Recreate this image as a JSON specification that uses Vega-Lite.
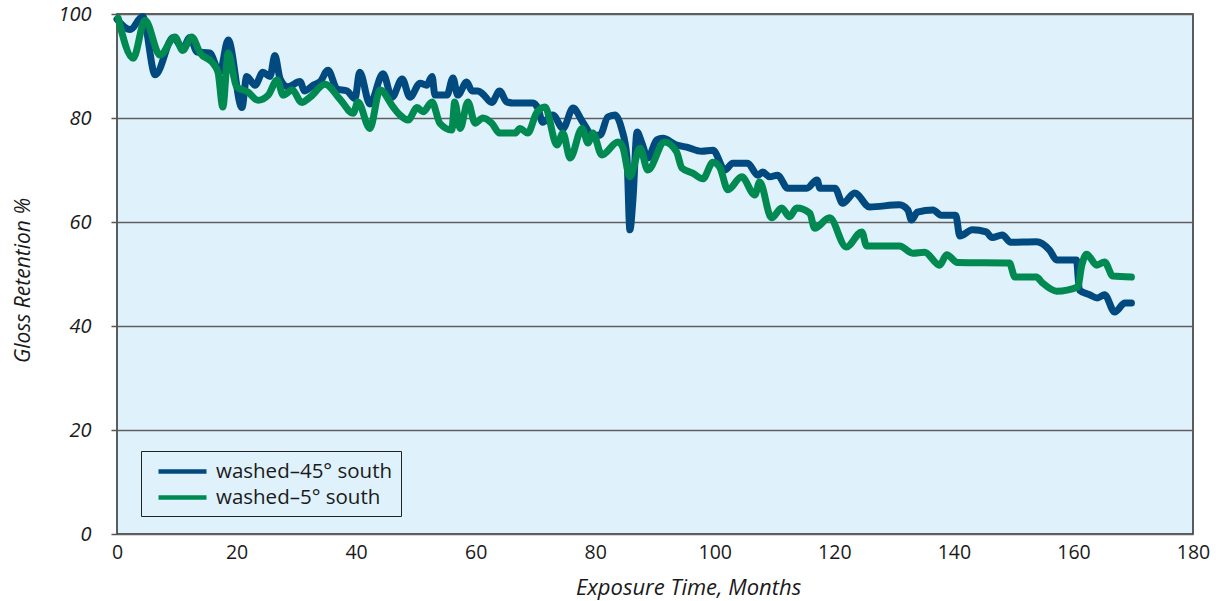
{
  "$schema": "https://vega.github.io/schema/vega-lite/v6.json",
  "width": 1076,
  "height": 520,
  "autosize": {"type": "none"},
  "padding": {"left": 117, "top": 14, "right": 23, "bottom": 67},
  "background": "white",
  "config": {
    "font": "Open Sans",
    "view": {"fill": "#dff1fb", "stroke": "#2a2a2a", "strokeWidth": 1.5}
  },
  "data": {
    "values": [
      {"m": 0, "g": 99, "s": "washed–45° south"},
      {"m": 2.2, "g": 97, "s": "washed–45° south"},
      {"m": 4.3, "g": 99.5, "s": "washed–45° south"},
      {"m": 6.4, "g": 88.3, "s": "washed–45° south"},
      {"m": 9.4, "g": 95.5, "s": "washed–45° south"},
      {"m": 11.0, "g": 93.4, "s": "washed–45° south"},
      {"m": 12.2, "g": 95.5, "s": "washed–45° south"},
      {"m": 13.4, "g": 92.7, "s": "washed–45° south"},
      {"m": 15.5, "g": 92.5, "s": "washed–45° south"},
      {"m": 17.2, "g": 88.8, "s": "washed–45° south"},
      {"m": 18.6, "g": 95, "s": "washed–45° south"},
      {"m": 20.9, "g": 82, "s": "washed–45° south"},
      {"m": 21.7, "g": 88, "s": "washed–45° south"},
      {"m": 23.1, "g": 86.3, "s": "washed–45° south"},
      {"m": 24.4, "g": 88.8, "s": "washed–45° south"},
      {"m": 25.6, "g": 88, "s": "washed–45° south"},
      {"m": 26.4, "g": 92, "s": "washed–45° south"},
      {"m": 27.3, "g": 87.5, "s": "washed–45° south"},
      {"m": 28.6, "g": 86, "s": "washed–45° south"},
      {"m": 30.6, "g": 87, "s": "washed–45° south"},
      {"m": 31.4, "g": 85.2, "s": "washed–45° south"},
      {"m": 32.8, "g": 86.3, "s": "washed–45° south"},
      {"m": 34, "g": 87, "s": "washed–45° south"},
      {"m": 35.3, "g": 89.2, "s": "washed–45° south"},
      {"m": 36.8, "g": 85.6, "s": "washed–45° south"},
      {"m": 38.5, "g": 85.2, "s": "washed–45° south"},
      {"m": 39.8, "g": 83.7, "s": "washed–45° south"},
      {"m": 40.6, "g": 88.8, "s": "washed–45° south"},
      {"m": 42.3, "g": 82.7, "s": "washed–45° south"},
      {"m": 44.5, "g": 88.5, "s": "washed–45° south"},
      {"m": 46, "g": 84, "s": "washed–45° south"},
      {"m": 47.7, "g": 87.5, "s": "washed–45° south"},
      {"m": 49, "g": 84, "s": "washed–45° south"},
      {"m": 50.7, "g": 86.7, "s": "washed–45° south"},
      {"m": 51.8, "g": 86.3, "s": "washed–45° south"},
      {"m": 52.7, "g": 88, "s": "washed–45° south"},
      {"m": 53.2, "g": 84.4, "s": "washed–45° south"},
      {"m": 55.2, "g": 84.4, "s": "washed–45° south"},
      {"m": 56.2, "g": 87.7, "s": "washed–45° south"},
      {"m": 57, "g": 84.4, "s": "washed–45° south"},
      {"m": 58.5, "g": 86.9, "s": "washed–45° south"},
      {"m": 59.4, "g": 85.2, "s": "washed–45° south"},
      {"m": 60.4, "g": 85.2, "s": "washed–45° south"},
      {"m": 61.2, "g": 84.6, "s": "washed–45° south"},
      {"m": 62.7, "g": 83, "s": "washed–45° south"},
      {"m": 64, "g": 85.2, "s": "washed–45° south"},
      {"m": 65.2, "g": 83.1, "s": "washed–45° south"},
      {"m": 66.2, "g": 82.9, "s": "washed–45° south"},
      {"m": 69.6, "g": 82.9, "s": "washed–45° south"},
      {"m": 70.4, "g": 81.9, "s": "washed–45° south"},
      {"m": 71.2, "g": 79.2, "s": "washed–45° south"},
      {"m": 72.9, "g": 80.6, "s": "washed–45° south"},
      {"m": 74.6, "g": 78, "s": "washed–45° south"},
      {"m": 76.3, "g": 81.9, "s": "washed–45° south"},
      {"m": 77.9, "g": 79.2, "s": "washed–45° south"},
      {"m": 79.6, "g": 76.7, "s": "washed–45° south"},
      {"m": 80.8, "g": 76.7, "s": "washed–45° south"},
      {"m": 82.1, "g": 80.2, "s": "washed–45° south"},
      {"m": 83.3, "g": 80.6, "s": "washed–45° south"},
      {"m": 84.4, "g": 78, "s": "washed–45° south"},
      {"m": 85.3, "g": 72.5, "s": "washed–45° south"},
      {"m": 85.8, "g": 58.5, "s": "washed–45° south"},
      {"m": 86.3, "g": 64.2, "s": "washed–45° south"},
      {"m": 87, "g": 77.3, "s": "washed–45° south"},
      {"m": 87.8, "g": 75.2, "s": "washed–45° south"},
      {"m": 88.8, "g": 72.3, "s": "washed–45° south"},
      {"m": 90.3, "g": 75.8, "s": "washed–45° south"},
      {"m": 91.3, "g": 76.1, "s": "washed–45° south"},
      {"m": 93.6, "g": 74.8, "s": "washed–45° south"},
      {"m": 95.3, "g": 74.4, "s": "washed–45° south"},
      {"m": 97.8, "g": 73.6, "s": "washed–45° south"},
      {"m": 99.7, "g": 73.8, "s": "washed–45° south"},
      {"m": 101.7, "g": 70, "s": "washed–45° south"},
      {"m": 103, "g": 71.3, "s": "washed–45° south"},
      {"m": 105.5, "g": 71.3, "s": "washed–45° south"},
      {"m": 107.2, "g": 69, "s": "washed–45° south"},
      {"m": 108, "g": 69.6, "s": "washed–45° south"},
      {"m": 109.2, "g": 68.7, "s": "washed–45° south"},
      {"m": 110.5, "g": 69, "s": "washed–45° south"},
      {"m": 112.2, "g": 66.5, "s": "washed–45° south"},
      {"m": 115.4, "g": 66.5, "s": "washed–45° south"},
      {"m": 117.1, "g": 68.1, "s": "washed–45° south"},
      {"m": 117.6, "g": 66.5, "s": "washed–45° south"},
      {"m": 120.1, "g": 66.5, "s": "washed–45° south"},
      {"m": 121.4, "g": 63.6, "s": "washed–45° south"},
      {"m": 123.4, "g": 65.6, "s": "washed–45° south"},
      {"m": 125.9, "g": 62.9, "s": "washed–45° south"},
      {"m": 130.9, "g": 63.3, "s": "washed–45° south"},
      {"m": 132.3, "g": 62.3, "s": "washed–45° south"},
      {"m": 132.9, "g": 60.4, "s": "washed–45° south"},
      {"m": 133.9, "g": 61.9, "s": "washed–45° south"},
      {"m": 136.5, "g": 62.3, "s": "washed–45° south"},
      {"m": 137.9, "g": 61.3, "s": "washed–45° south"},
      {"m": 140.3, "g": 61.3, "s": "washed–45° south"},
      {"m": 141, "g": 57.3, "s": "washed–45° south"},
      {"m": 143.1, "g": 58.5, "s": "washed–45° south"},
      {"m": 145.4, "g": 58.1, "s": "washed–45° south"},
      {"m": 146.4, "g": 57, "s": "washed–45° south"},
      {"m": 148.1, "g": 57.5, "s": "washed–45° south"},
      {"m": 149.5, "g": 56.1, "s": "washed–45° south"},
      {"m": 153.8, "g": 56.2, "s": "washed–45° south"},
      {"m": 156, "g": 54.6, "s": "washed–45° south"},
      {"m": 157.2, "g": 52.7, "s": "washed–45° south"},
      {"m": 160.5, "g": 52.7, "s": "washed–45° south"},
      {"m": 161, "g": 46.9, "s": "washed–45° south"},
      {"m": 162.7, "g": 46, "s": "washed–45° south"},
      {"m": 164, "g": 45.4, "s": "washed–45° south"},
      {"m": 165.2, "g": 46, "s": "washed–45° south"},
      {"m": 166.9, "g": 42.7, "s": "washed–45° south"},
      {"m": 168.6, "g": 44.4, "s": "washed–45° south"},
      {"m": 169.7, "g": 44.4, "s": "washed–45° south"},

      {"m": 0.2, "g": 99.2, "s": "washed–5° south"},
      {"m": 2.7, "g": 91.5, "s": "washed–5° south"},
      {"m": 4.7, "g": 98.8, "s": "washed–5° south"},
      {"m": 7.2, "g": 92.1, "s": "washed–5° south"},
      {"m": 9.7, "g": 95.6, "s": "washed–5° south"},
      {"m": 11, "g": 93, "s": "washed–5° south"},
      {"m": 12.5, "g": 95.6, "s": "washed–5° south"},
      {"m": 13.9, "g": 92.5, "s": "washed–5° south"},
      {"m": 16, "g": 90.6, "s": "washed–5° south"},
      {"m": 16.9, "g": 88.8, "s": "washed–5° south"},
      {"m": 17.7, "g": 82.1, "s": "washed–5° south"},
      {"m": 18.6, "g": 92.5, "s": "washed–5° south"},
      {"m": 20, "g": 86, "s": "washed–5° south"},
      {"m": 21.9, "g": 85, "s": "washed–5° south"},
      {"m": 23.6, "g": 83.4, "s": "washed–5° south"},
      {"m": 25.3, "g": 84.4, "s": "washed–5° south"},
      {"m": 26.8, "g": 87.3, "s": "washed–5° south"},
      {"m": 27.8, "g": 84.4, "s": "washed–5° south"},
      {"m": 29.3, "g": 85.4, "s": "washed–5° south"},
      {"m": 30.9, "g": 83, "s": "washed–5° south"},
      {"m": 32.3, "g": 84, "s": "washed–5° south"},
      {"m": 34.8, "g": 86.5, "s": "washed–5° south"},
      {"m": 37.3, "g": 83.6, "s": "washed–5° south"},
      {"m": 39.5, "g": 80.9, "s": "washed–5° south"},
      {"m": 40.3, "g": 83.1, "s": "washed–5° south"},
      {"m": 42.3, "g": 78, "s": "washed–5° south"},
      {"m": 44, "g": 85.4, "s": "washed–5° south"},
      {"m": 46.2, "g": 82.1, "s": "washed–5° south"},
      {"m": 47.3, "g": 80.6, "s": "washed–5° south"},
      {"m": 48.7, "g": 79.6, "s": "washed–5° south"},
      {"m": 50.2, "g": 82, "s": "washed–5° south"},
      {"m": 51.2, "g": 81.2, "s": "washed–5° south"},
      {"m": 52.7, "g": 83.1, "s": "washed–5° south"},
      {"m": 54, "g": 79, "s": "washed–5° south"},
      {"m": 56, "g": 77.7, "s": "washed–5° south"},
      {"m": 56.5, "g": 83.1, "s": "washed–5° south"},
      {"m": 57.4, "g": 78, "s": "washed–5° south"},
      {"m": 58.7, "g": 83.1, "s": "washed–5° south"},
      {"m": 59.9, "g": 79, "s": "washed–5° south"},
      {"m": 61.2, "g": 80, "s": "washed–5° south"},
      {"m": 62.7, "g": 79, "s": "washed–5° south"},
      {"m": 64, "g": 77.1, "s": "washed–5° south"},
      {"m": 66.6, "g": 77.1, "s": "washed–5° south"},
      {"m": 67.4, "g": 78, "s": "washed–5° south"},
      {"m": 68.7, "g": 77.1, "s": "washed–5° south"},
      {"m": 70.2, "g": 81, "s": "washed–5° south"},
      {"m": 71.6, "g": 82.1, "s": "washed–5° south"},
      {"m": 73.6, "g": 74.8, "s": "washed–5° south"},
      {"m": 74.6, "g": 77.1, "s": "washed–5° south"},
      {"m": 75.8, "g": 72.3, "s": "washed–5° south"},
      {"m": 77.8, "g": 78, "s": "washed–5° south"},
      {"m": 78.8, "g": 75.2, "s": "washed–5° south"},
      {"m": 79.6, "g": 77.1, "s": "washed–5° south"},
      {"m": 81.1, "g": 72.9, "s": "washed–5° south"},
      {"m": 83.8, "g": 75.4, "s": "washed–5° south"},
      {"m": 84.6, "g": 74.4, "s": "washed–5° south"},
      {"m": 85.8, "g": 68.7, "s": "washed–5° south"},
      {"m": 87.5, "g": 74.2, "s": "washed–5° south"},
      {"m": 88.8, "g": 70, "s": "washed–5° south"},
      {"m": 91.6, "g": 75.4, "s": "washed–5° south"},
      {"m": 93.6, "g": 73.5, "s": "washed–5° south"},
      {"m": 94.5, "g": 70.4, "s": "washed–5° south"},
      {"m": 96.3, "g": 69.4, "s": "washed–5° south"},
      {"m": 98, "g": 68.3, "s": "washed–5° south"},
      {"m": 99.7, "g": 71.5, "s": "washed–5° south"},
      {"m": 100.8, "g": 70.6, "s": "washed–5° south"},
      {"m": 102.2, "g": 66.2, "s": "washed–5° south"},
      {"m": 104.5, "g": 68.7, "s": "washed–5° south"},
      {"m": 106.7, "g": 65.2, "s": "washed–5° south"},
      {"m": 107.5, "g": 67.7, "s": "washed–5° south"},
      {"m": 109.5, "g": 60.8, "s": "washed–5° south"},
      {"m": 111.2, "g": 62.7, "s": "washed–5° south"},
      {"m": 112.5, "g": 61, "s": "washed–5° south"},
      {"m": 113.7, "g": 62.7, "s": "washed–5° south"},
      {"m": 115.9, "g": 61.7, "s": "washed–5° south"},
      {"m": 116.7, "g": 58.8, "s": "washed–5° south"},
      {"m": 119.2, "g": 60.8, "s": "washed–5° south"},
      {"m": 122, "g": 55.2, "s": "washed–5° south"},
      {"m": 124.6, "g": 58.1, "s": "washed–5° south"},
      {"m": 125.4, "g": 55.4, "s": "washed–5° south"},
      {"m": 130.9, "g": 55.4, "s": "washed–5° south"},
      {"m": 133.1, "g": 54, "s": "washed–5° south"},
      {"m": 135.1, "g": 54.2, "s": "washed–5° south"},
      {"m": 137.6, "g": 51.7, "s": "washed–5° south"},
      {"m": 138.8, "g": 53.7, "s": "washed–5° south"},
      {"m": 140.6, "g": 52.2, "s": "washed–5° south"},
      {"m": 149.3, "g": 52.1, "s": "washed–5° south"},
      {"m": 150.2, "g": 49.4, "s": "washed–5° south"},
      {"m": 153.8, "g": 49.4, "s": "washed–5° south"},
      {"m": 154.8, "g": 48.3, "s": "washed–5° south"},
      {"m": 157.2, "g": 46.7, "s": "washed–5° south"},
      {"m": 160.7, "g": 47.5, "s": "washed–5° south"},
      {"m": 161.4, "g": 51.7, "s": "washed–5° south"},
      {"m": 162.2, "g": 53.8, "s": "washed–5° south"},
      {"m": 163.9, "g": 51.7, "s": "washed–5° south"},
      {"m": 165.2, "g": 52.3, "s": "washed–5° south"},
      {"m": 166.6, "g": 49.6, "s": "washed–5° south"},
      {"m": 169.7, "g": 49.4, "s": "washed–5° south"}
    ]
  },
  "mark": {"type": "line", "strokeWidth": 7, "interpolate": "monotone", "strokeJoin": "round", "strokeCap": "round"},
  "encoding": {
    "x": {
      "field": "m", "type": "quantitative",
      "scale": {"domain": [0, 180], "nice": false},
      "axis": {
        "title": "Exposure Time, Months",
        "titleFont": "Open Sans", "titleFontSize": 22, "titleFontStyle": "italic", "titleFontWeight": "normal", "titleColor": "#1a1a1a", "titlePadding": 16,
        "titleX": 571, "titleAlign": "center",
        "values": [0, 20, 40, 60, 80, 100, 120, 140, 160, 180],
        "labelFont": "Open Sans", "labelFontSize": 19.5, "labelColor": "#1a1a1a", "labelPadding": 9, "labelFlush": false,
        "ticks": false, "grid": false, "domain": false
      }
    },
    "y": {
      "field": "g", "type": "quantitative",
      "scale": {"domain": [0, 100], "nice": false},
      "axis": {
        "title": "Gloss Retention %",
        "titleFont": "Open Sans", "titleFontSize": 21, "titleFontStyle": "italic", "titleFontWeight": "normal", "titleColor": "#1a1a1a", "titlePadding": 24,
        "titleY": 266, "titleAlign": "center",
        "values": [0, 20, 40, 60, 80, 100],
        "labelFont": "Open Sans", "labelFontSize": 20, "labelFontStyle": "italic", "labelColor": "#1a1a1a", "labelPadding": 20, "labelFlush": false,
        "ticks": true, "tickSize": 6, "tickColor": "#555555", "tickWidth": 1.5,
        "grid": true, "gridColor": "#5f5f5f", "gridWidth": 1.5, "gridOpacity": 1,
        "domain": false
      }
    },
    "color": {
      "field": "s", "type": "nominal",
      "scale": {"domain": ["washed–45° south", "washed–5° south"], "range": ["#004a80", "#008a52"]},
      "legend": {
        "title": null,
        "orient": "none", "legendX": 24, "legendY": 437,
        "direction": "vertical",
        "fillColor": "#dff1fb", "strokeColor": "#222222",
        "padding": 8,
        "symbolType": "M-0.3,0H4.5", "symbolSize": 400, "symbolStrokeWidth": 4.5,
        "labelFont": "Open Sans", "labelFontSize": 20.5, "labelColor": "#1a1a1a", "labelOffset": 42, "labelLimit": 400,
        "rowPadding": 3
      }
    }
  }
}
